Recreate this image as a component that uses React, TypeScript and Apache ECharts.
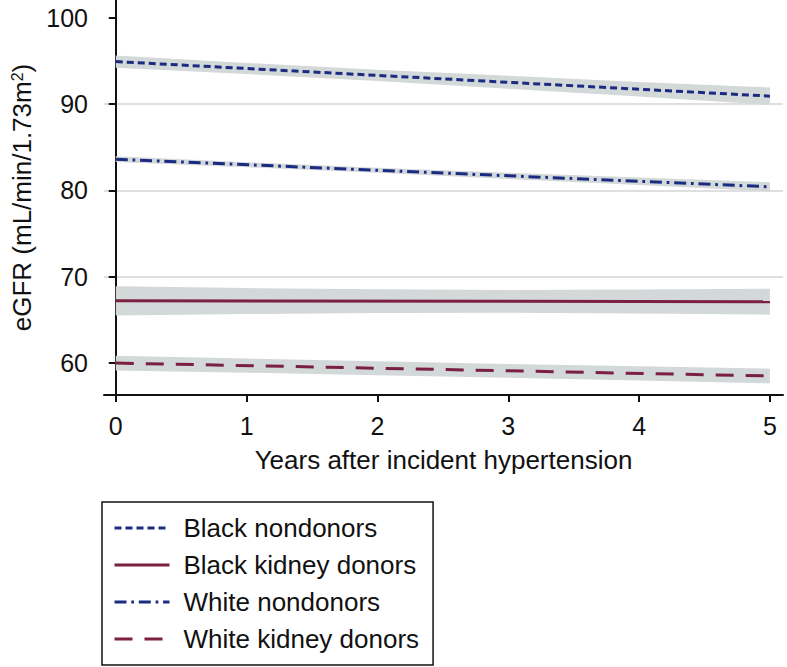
import React, { useEffect, useRef } from "react";
import * as echarts from "echarts";

// ---- data ----
const lineYears = [0, 5];
const blackNondonors = [94.9, 90.9];
const blackDonors = [67.2, 67.1];
const whiteNondonors = [83.6, 80.4];
const whiteDonors = [60.0, 58.5];

const bandYears = [0, 1, 2, 3, 4, 5];
const blackNondonorsLo = [94.2, 93.45, 92.65, 91.75, 90.85, 89.9];
const blackNondonorsHi = [95.6, 94.75, 93.95, 93.25, 92.55, 91.9];
const whiteNondonorsLo = [83.27, 82.66, 82.02, 81.32, 80.6, 79.88];
const whiteNondonorsHi = [83.93, 83.26, 82.62, 82.04, 81.48, 80.92];
const blackDonorsLo = [65.5, 65.68, 65.78, 65.82, 65.74, 65.6];
const blackDonorsHi = [68.9, 68.68, 68.54, 68.46, 68.5, 68.6];
const whiteDonorsLo = [59.15, 58.88, 58.6, 58.3, 57.97, 57.65];
const whiteDonorsHi = [60.85, 60.52, 60.2, 59.9, 59.63, 59.35];

const xTicks = [0, 1, 2, 3, 4, 5];
const yTicks = [60, 70, 80, 90, 100];

const seriesNames = [
  "Black nondonors",
  "Black kidney donors",
  "White nondonors",
  "White kidney donors",
];

const FONT = "'Liberation Sans', Arial, Helvetica, sans-serif";
const BLUE = "#1b2b82";
const MAROON = "#7a2040";
const BAND = "#d3d8d8";

function band(lo: number[], hi: number[]) {
  return {
    type: "custom",
    silent: true,
    z: 1,
    data: bandYears.map((y, i) => [y, lo[i], hi[i]]),
    encode: { x: 0, y: [1, 2] },
    renderItem: (params: any, api: any) => {
      if (params.dataIndex !== 0) return null;
      const pts: number[][] = [];
      for (let i = 0; i < bandYears.length; i++) pts.push(api.coord([bandYears[i], hi[i]]));
      for (let i = bandYears.length - 1; i >= 0; i--) pts.push(api.coord([bandYears[i], lo[i]]));
      return { type: "polygon", shape: { points: pts }, style: { fill: BAND } };
    },
  };
}

function line(name: string, vals: number[], color: string, dash: any) {
  return {
    type: "line",
    name,
    z: 3,
    symbol: "none",
    data: lineYears.map((y, i) => [y, vals[i]]),
    lineStyle: { color, width: 3, type: dash },
    itemStyle: { color },
  };
}

export default function App() {
  const ref = useRef<HTMLDivElement>(null);
  useEffect(() => {
    const chart = echarts.init(ref.current!, null, { renderer: "svg" });
    chart.setOption({
      animation: false,
      textStyle: { fontFamily: FONT },
      grid: { left: 104, right: 4, top: 0, bottom: 272, containLabel: false },
      xAxis: {
        type: "value",
        min: -0.09,
        max: 5.1,
        axisLine: { lineStyle: { color: "#111", width: 2 } },
        axisTick: { length: 7, lineStyle: { color: "#111", width: 2 }, customValues: xTicks },
        axisLabel: { customValues: xTicks, fontSize: 25, color: "#111", margin: 18, fontFamily: FONT },
        splitLine: { show: false },
        name: "Years after incident hypertension",
        nameLocation: "middle",
        nameGap: 52,
        nameTextStyle: { fontSize: 26, color: "#111", fontFamily: FONT },
      },
      yAxis: {
        type: "value",
        min: 56.3,
        max: 102.03,
        axisLine: { show: true, lineStyle: { color: "#111", width: 2 } },
        axisTick: { show: true, length: 7, lineStyle: { color: "#111", width: 2 }, customValues: yTicks },
        axisLabel: { customValues: yTicks, fontSize: 25, color: "#111", margin: 16, fontFamily: FONT },
        splitLine: {
          show: true,
          showMinLine: false,
          showMaxLine: false,
          lineStyle: { color: "#d4d4d4", width: 1.5 },
        },
        name: "{a|eGFR (mL/min/1.73m}{s|2}{a|)}",
        nameLocation: "middle",
        nameRotate: 90,
        nameGap: 57,
        nameTextStyle: {
          color: "#111",
          fontFamily: FONT,
          rich: {
            a: { fontSize: 26, color: "#111", fontFamily: FONT },
            s: { fontSize: 16, color: "#111", fontFamily: FONT, verticalAlign: "top" },
          },
        },
      },
      legend: {
        data: seriesNames,
        orient: "vertical",
        left: 102,
        top: 502,
        borderColor: "#111",
        borderWidth: 1.5,
        padding: [13, 14, 13, 11],
        itemWidth: 55,
        itemHeight: 26,
        itemGap: 11,
        selectedMode: false,
        itemStyle: { opacity: 0 },
        lineStyle: { width: 3 },
        textStyle: { fontSize: 26, color: "#111", fontFamily: FONT, lineHeight: 26, padding: [0, 0, 0, 9] },
      },
      series: [
        band(blackNondonorsLo, blackNondonorsHi),
        band(whiteNondonorsLo, whiteNondonorsHi),
        band(blackDonorsLo, blackDonorsHi),
        band(whiteDonorsLo, whiteDonorsHi),
        line(seriesNames[0], blackNondonors, BLUE, [7, 4]),
        line(seriesNames[1], blackDonors, MAROON, "solid"),
        line(seriesNames[2], whiteNondonors, BLUE, [12, 4.8, 2.7, 4.8]),
        line(seriesNames[3], whiteDonors, MAROON, [18, 12]),
      ],
    });
    return () => chart.dispose();
  }, []);
  return (
    <div
      ref={ref}
      style={{ position: "fixed", left: 0, top: 0, width: 787, height: 667, background: "#fff" }}
    />
  );
}
